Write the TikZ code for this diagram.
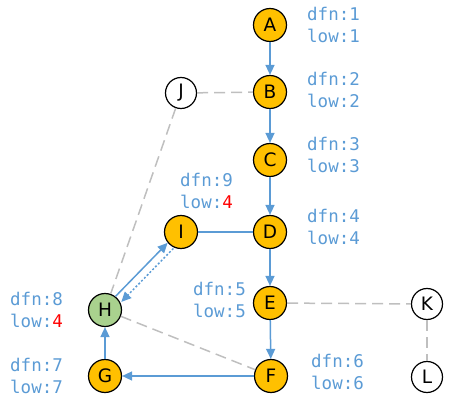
\documentclass[tikz,border=0pt]{standalone}
\usepackage{fontspec}
\setmainfont{DejaVu Sans}
\newfontfamily\labelfont{DejaVu Sans Mono}
\usepackage{tikz}
\usetikzlibrary{arrows.meta}
\definecolor{treeblue}{HTML}{5B9BD5}
\definecolor{visited}{HTML}{FFC000}
\definecolor{root}{HTML}{A9D18E}
\definecolor{backedge}{HTML}{BFBFBF}

\begin{document}
\begin{tikzpicture}[x=1pt,y=-1pt,
  vertex/.style={circle,draw=black,line width=1.2pt,fill=visited,minimum size=33pt,inner sep=0pt,font=\fontsize{18.5}{20}\selectfont},
  spare/.style={vertex,fill=white,minimum size=31pt},
  tree/.style={treeblue,line width=1.5pt,-{Triangle[length=10pt,width=9pt]}},
  plain/.style={treeblue,line width=1.5pt},
  back/.style={backedge,line width=1.5pt,dash pattern=on 11pt off 6pt},
  info/.style={treeblue,align=left,inner sep=0pt,font=\labelfont\fontsize{17.5}{22.7}\selectfont}]
\useasboundingbox (0,0) rectangle (461,403);
% vertices
\node[vertex] (A) at (270,25) {A};
\node[vertex] (B) at (270,92) {B};
\node[vertex] (C) at (270,160) {C};
\node[vertex] (D) at (270,232) {D};
\node[vertex] (E) at (270,303) {E};
\node[vertex] (F) at (271,376) {F};
\node[vertex] (G) at (105,376) {G};
\node[vertex,fill=root] (H) at (105,310) {H};
\node[vertex] (I) at (181,232) {I};
\node[spare] (J) at (181,93) {J};
\node[spare] (K) at (427,304) {K};
\node[spare] (L) at (427,377) {L};
% dfn and low values
\node[info,anchor=west] (infoA) at (307,25) {dfn:1\\low:1};
\node[info,anchor=west] (infoB) at (307,90) {dfn:2\\low:2};
\node[info,anchor=west] (infoC) at (307,155) {dfn:3\\low:3};
\node[info,anchor=west] (infoD) at (307,227) {dfn:4\\low:4};
\node[info,anchor=east] (infoE) at (246,300) {dfn:5\\low:5};
\node[info,anchor=west] (infoF) at (311,372) {dfn:6\\low:6};
\node[info,anchor=west] (infoG) at (10,376) {dfn:7\\low:7};
\node[info,anchor=west] (infoH) at (10,310) {dfn:8\\low:\textcolor{red}{4}};
\node[info,anchor=west] (infoI) at (180,191) {dfn:9\\low:\textcolor{red}{4}};
% non-tree edges
\draw[back] (J) -- (B);
\draw[back] (J) -- (H);
\draw[back] (H) -- (F);
\draw[back] (E) -- (K);
\draw[back] (K) -- (L);
% search tree
\draw[tree] (A) -- (B);
\draw[tree] (B) -- (C);
\draw[tree] (C) -- (D);
\draw[tree] (D) -- (E);
\draw[tree] (E) -- (F);
\draw[tree] (F) -- (G);
\draw[tree] (G) -- (H);
\draw[plain] (I) -- (D);
\draw[tree,transform canvas={xshift=-1.4pt,yshift=1.4pt}] (H) -- (I);
\draw[tree,dash pattern=on 2pt off 2pt,transform canvas={xshift=4.3pt,yshift=-4.2pt}] (I) -- (H);
\end{tikzpicture}
\end{document}
